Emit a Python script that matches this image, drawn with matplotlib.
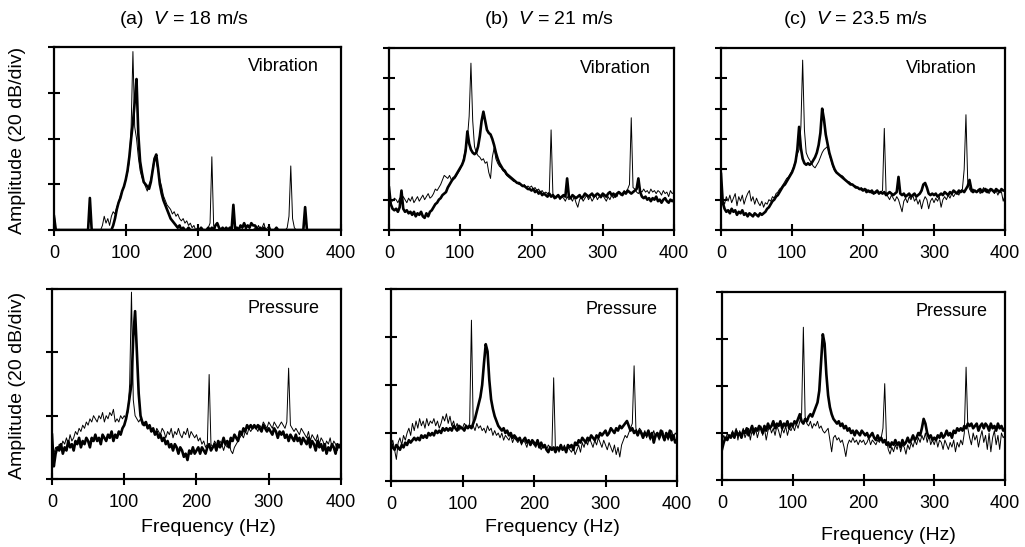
import numpy as np
import matplotlib
matplotlib.use("Agg")
import matplotlib.pyplot as plt

# ---------------- data (dB, relative; sampled every 2.5 Hz from 0 to 400 Hz) ----------------
freq = np.linspace(0, 400, 161)

# (a) V = 18 m/s, vibration
vib18_thick = [
    6, 0, 0, 0, 0, 0, 0, 0, 0, 0, 0, 0, 0, 0, 0, 0, 0, 0, 0, 0,
    14, 0, 0, 0, 0, 0, 0, 0, 0, 0, 0, 0, 0, 2, 5, 9, 12, 14, 17, 19,
    22, 26, 32, 40, 47, 56, 66, 42, 30, 25, 21, 20, 19, 18, 21, 26, 31, 33, 27, 20,
    16, 13, 11, 9, 7, 5, 4, 3, 2, 1, 2, 0, 1, 0, 0, 1, 0, 0, 0, 0,
    0, 0, 1, 0, 0, 0, 1, 0, 1, 0, 2, 3, 1, 0, 1, 0, 1, 0, 1, 0,
    11, 0, 1, 0, 2, 1, 3, 1, 2, 1, 3, 2, 2, 1, 0, 1, 0, 1, 0, 0,
    0, 0, 0, 0, 1, 0, 0, 0, 0, 0, 0, 0, 0, 0, 0, 0, 0, 0, 0, 0,
    10, 0, 0, 0, 0, 0, 0, 0, 0, 0, 0, 0, 0, 0, 0, 0, 0, 0, 0, 0,
    0]
vib18_thin = [
    8, 0, 0, 0, 0, 0, 0, 0, 0, 0, 0, 0, 0, 0, 0, 0, 0, 0, 0, 0,
    0, 0, 0, 0, 0, 0, 0, 2, 6, 3, 5, 2, 6, 8, 7, 10, 12, 15, 17, 19,
    22, 25, 30, 45, 78, 45, 40, 32, 26, 23, 21, 19, 17, 20, 22, 27, 32, 30, 26, 22,
    19, 15, 13, 11, 10, 9, 7, 8, 6, 7, 5, 4, 5, 3, 4, 2, 3, 1, 2, 0,
    1, 0, 0, 0, 0, 0, 1, 3, 32, 2, 0, 0, 0, 0, 0, 0, 0, 0, 0, 0,
    0, 0, 0, 0, 0, 0, 0, 1, 0, 0, 0, 0, 1, 0, 2, 0, 1, 3, 0, 1,
    2, 0, 0, 0, 0, 0, 0, 0, 0, 0, 1, 6, 28, 5, 1, 0, 0, 0, 0, 0,
    0, 0, 0, 0, 0, 0, 0, 0, 0, 0, 0, 0, 0, 0, 0, 0, 0, 0, 0, 0,
    0]

# (b) V = 21 m/s, vibration
vib21_thick = [
    28, 17, 14, 13, 14, 12, 15, 26, 14, 12, 13, 11, 12, 10, 12, 9, 11, 10, 12, 9,
    8, 11, 9, 12, 13, 15, 17, 18, 20, 21, 23, 24, 25, 28, 30, 32, 34, 35, 37, 39,
    41, 43, 46, 52, 65, 57, 53, 51, 50, 51, 55, 62, 72, 78, 72, 66, 64, 63, 60, 56,
    51, 47, 44, 42, 40, 39, 37, 36, 35, 34, 33, 32, 31, 31, 30, 29, 29, 28, 27, 27,
    26, 27, 25, 26, 24, 25, 23, 24, 23, 22, 24, 22, 23, 21, 22, 23, 21, 22, 23, 22,
    34, 22, 21, 23, 22, 21, 22, 23, 21, 22, 24, 23, 22, 23, 24, 22, 23, 24, 23, 22,
    24, 23, 22, 24, 25, 23, 24, 22, 24, 25, 24, 23, 25, 24, 26, 25, 24, 25, 26, 27,
    34, 25, 22, 21, 22, 20, 21, 19, 21, 20, 22, 19, 20, 18, 20, 21, 19, 18, 20, 19,
    20]
vib21_thin = [
    22, 20, 19, 21, 20, 18, 21, 19, 22, 20, 18, 21, 19, 22, 18, 20, 22, 19, 21, 23,
    20, 22, 24, 21, 22, 24, 27, 26, 28, 30, 33, 36, 35, 34, 36, 33, 33, 34, 36, 38,
    40, 43, 48, 54, 60, 75, 110, 72, 55, 51, 49, 48, 46, 47, 44, 45, 38, 34, 48, 54,
    47, 44, 42, 41, 39, 38, 36, 35, 34, 33, 32, 32, 31, 30, 30, 29, 30, 28, 29, 28,
    29, 27, 28, 26, 27, 25, 26, 24, 25, 24, 25, 66, 24, 22, 21, 23, 20, 22, 21, 19,
    22, 20, 21, 19, 22, 18, 15, 20, 22, 19, 21, 23, 20, 22, 19, 21, 23, 20, 22, 21,
    23, 21, 19, 22, 20, 23, 21, 24, 22, 25, 23, 24, 26, 25, 27, 30, 74, 28, 27, 25,
    24, 26, 25, 27, 25, 26, 24, 27, 25, 26, 24, 26, 25, 23, 26, 24, 25, 22, 26, 24,
    25]

# (c) V = 23.5 m/s, vibration
vib235_thick = [
    37, 18, 14, 12, 13, 11, 14, 12, 13, 10, 12, 11, 13, 10, 11, 9, 11, 10, 9, 11,
    10, 9, 11, 10, 11, 12, 14, 15, 17, 19, 20, 22, 23, 25, 27, 29, 30, 32, 34, 36,
    38, 41, 45, 53, 68, 54, 47, 44, 43, 44, 43, 44, 46, 48, 51, 56, 64, 80, 73, 63,
    57, 51, 47, 43, 40, 38, 37, 36, 35, 34, 33, 32, 31, 30, 30, 29, 28, 28, 27, 27,
    26, 27, 25, 26, 25, 26, 24, 25, 26, 24, 25, 24, 25, 23, 24, 25, 24, 23, 24, 25,
    35, 24, 23, 24, 22, 23, 24, 22, 23, 24, 22, 23, 24, 26, 30, 31, 28, 24, 23, 24,
    23, 24, 22, 23, 24, 23, 25, 24, 23, 25, 24, 26, 25, 24, 26, 25, 26, 25, 27, 29,
    33, 27, 25, 26, 25, 26, 27, 25, 26, 27, 25, 26, 27, 26, 25, 27, 26, 25, 27, 26,
    26]
vib235_thin = [
    24, 20, 17, 22, 19, 23, 18, 21, 24, 16, 22, 19, 23, 17, 21, 24, 26, 19, 22, 17,
    21, 18, 16, 19, 15, 18, 17, 20, 19, 22, 21, 24, 25, 27, 28, 30, 32, 34, 35, 37,
    39, 42, 46, 50, 53, 68, 112, 66, 51, 48, 46, 44, 42, 41, 43, 45, 48, 51, 53, 54,
    55, 50, 46, 42, 39, 38, 37, 36, 36, 35, 33, 32, 32, 31, 30, 29, 29, 28, 27, 28,
    27, 26, 27, 25, 26, 24, 25, 24, 25, 24, 25, 26, 67, 25, 22, 20, 23, 21, 19, 22,
    20, 16, 12, 19, 21, 18, 22, 20, 23, 19, 21, 17, 20, 14, 19, 22, 20, 14, 19, 21,
    18, 21, 19, 22, 15, 20, 22, 20, 23, 21, 24, 22, 24, 25, 23, 26, 27, 40, 76, 32,
    27, 25, 27, 26, 25, 27, 24, 26, 28, 25, 27, 24, 26, 27, 24, 26, 23, 26, 25, 19,
    23]

# (a) V = 18 m/s, pressure
pres18_thick = [
    14, 4, 8, 10, 9, 11, 8, 10, 9, 12, 10, 11, 9, 12, 11, 13, 10, 12, 11, 13,
    12, 10, 13, 12, 14, 12, 13, 11, 14, 13, 12, 14, 13, 15, 12, 14, 13, 15, 14, 16,
    17, 19, 22, 26, 30, 45, 53, 40, 27, 20, 18, 17, 18, 16, 17, 15, 16, 14, 15, 13,
    14, 12, 13, 11, 12, 10, 11, 9, 11, 10, 8, 10, 9, 7, 8, 6, 9, 8, 10, 8,
    9, 10, 8, 10, 9, 8, 10, 11, 9, 10, 11, 9, 12, 10, 11, 13, 11, 12, 10, 13,
    12, 14, 13, 12, 15, 14, 16, 15, 17, 16, 17, 16, 17, 16, 17, 16, 15, 17, 16, 15,
    16, 15, 14, 16, 15, 13, 15, 14, 15, 13, 14, 12, 14, 13, 12, 14, 12, 13, 11, 13,
    12, 11, 13, 10, 12, 11, 9, 12, 10, 11, 9, 11, 8, 10, 9, 11, 10, 8, 11, 10,
    11]
pres18_thin = [
    12, 8, 10, 9, 11, 10, 12, 11, 13, 11, 14, 12, 13, 15, 14, 16, 15, 17, 16, 18,
    17, 19, 18, 20, 19, 18, 20, 19, 21, 18, 20, 19, 21, 20, 22, 18, 19, 18, 20, 19,
    20, 19, 21, 30, 59, 25, 20, 19, 18, 19, 17, 18, 17, 16, 17, 15, 16, 14, 16, 15,
    14, 16, 15, 13, 15, 14, 16, 13, 15, 14, 16, 14, 13, 15, 14, 16, 13, 15, 14, 13,
    14, 12, 13, 11, 12, 10, 11, 33, 11, 10, 12, 11, 10, 12, 11, 9, 11, 10, 12, 9,
    8, 10, 11, 12, 13, 14, 13, 15, 14, 16, 15, 16, 17, 16, 15, 17, 16, 18, 17, 16,
    18, 17, 16, 18, 17, 16, 17, 18, 17, 16, 18, 35, 17, 16, 15, 16, 15, 14, 16, 15,
    14, 13, 15, 12, 14, 13, 12, 14, 11, 13, 12, 10, 12, 11, 13, 10, 12, 11, 9, 11,
    10]

# (b) V = 21 m/s, pressure
pres21_thick = [
    16, 14, 13, 15, 14, 13, 15, 14, 16, 15, 17, 16, 17, 18, 17, 18, 17, 19, 18, 19,
    18, 20, 19, 20, 19, 21, 20, 21, 20, 22, 21, 22, 21, 22, 21, 23, 22, 21, 23, 22,
    22, 21, 23, 22, 23, 22, 24, 26, 29, 32, 35, 40, 49, 57, 54, 42, 34, 30, 27, 25,
    23, 22, 21, 22, 20, 21, 19, 20, 18, 19, 18, 17, 18, 16, 17, 18, 16, 17, 15, 17,
    16, 15, 17, 14, 16, 14, 15, 13, 12, 14, 13, 14, 12, 14, 13, 15, 13, 14, 12, 15,
    14, 15, 13, 16, 15, 17, 16, 18, 17, 16, 18, 17, 19, 18, 17, 19, 18, 20, 19, 20,
    21, 19, 20, 22, 21, 20, 22, 21, 23, 22, 23, 24, 25, 23, 21, 22, 20, 21, 19, 21,
    20, 18, 20, 19, 21, 18, 20, 16, 19, 20, 18, 21, 19, 17, 20, 18, 21, 17, 19, 16,
    17]
pres21_thin = [
    15, 17, 13, 9, 16, 18, 15, 19, 17, 20, 22, 19, 24, 21, 25, 22, 26, 23, 25, 22,
    26, 23, 25, 24, 26, 23, 25, 22, 24, 27, 25, 28, 24, 27, 23, 25, 22, 24, 21, 23,
    22, 24, 23, 22, 24, 67, 23, 21, 24, 22, 23, 21, 22, 20, 23, 21, 22, 19, 21, 19,
    20, 18, 20, 17, 19, 18, 17, 19, 16, 18, 17, 16, 18, 15, 17, 16, 14, 17, 15, 16,
    15, 14, 16, 15, 13, 15, 14, 13, 15, 14, 13, 43, 13, 14, 12, 14, 13, 15, 12, 14,
    13, 12, 14, 11, 13, 15, 12, 16, 14, 17, 15, 18, 16, 14, 17, 15, 18, 16, 14, 17,
    15, 13, 16, 14, 12, 15, 11, 14, 10, 15, 17, 19, 18, 20, 22, 24, 48, 22, 20, 22,
    21, 19, 21, 18, 20, 17, 19, 21, 18, 20, 17, 19, 21, 18, 20, 17, 19, 21, 18, 20,
    19]

# (c) V = 23.5 m/s, pressure
pres235_thick = [
    13, 16, 18, 17, 19, 18, 20, 18, 21, 19, 20, 18, 21, 20, 22, 19, 21, 23, 20, 22,
    21, 23, 22, 20, 23, 21, 24, 22, 23, 25, 22, 24, 23, 25, 22, 24, 23, 25, 22, 24,
    23, 25, 24, 26, 28, 25, 24, 26, 25, 27, 28, 27, 29, 31, 33, 38, 50, 62, 58, 45,
    36, 31, 28, 26, 25, 24, 25, 23, 24, 22, 23, 21, 22, 20, 21, 19, 21, 20, 19, 21,
    20, 19, 20, 18, 19, 20, 18, 17, 19, 17, 18, 16, 17, 15, 16, 14, 16, 15, 17, 15,
    16, 14, 17, 15, 16, 18, 16, 17, 19, 17, 18, 20, 19, 22, 26, 24, 20, 18, 19, 17,
    18, 17, 19, 18, 20, 18, 19, 21, 19, 20, 18, 21, 20, 22, 21, 22, 21, 23, 22, 24,
    23, 24, 22, 23, 24, 21, 23, 24, 22, 24, 23, 21, 24, 22, 23, 21, 24, 22, 23, 21,
    22]
pres235_thin = [
    16, 19, 17, 20, 18, 19, 21, 18, 22, 17, 21, 19, 22, 18, 20, 22, 17, 21, 19, 22,
    18, 21, 23, 19, 22, 17, 21, 23, 20, 22, 19, 23, 21, 18, 22, 20, 23, 19, 22, 21,
    23, 21, 24, 22, 25, 28, 65, 27, 24, 23, 25, 22, 24, 23, 25, 22, 23, 21, 20, 21,
    22, 17, 12, 18, 19, 17, 18, 16, 17, 14, 10, 15, 17, 16, 18, 16, 17, 15, 17, 16,
    17, 15, 16, 18, 15, 17, 16, 15, 17, 16, 18, 22, 41, 17, 13, 11, 14, 12, 15, 13,
    16, 12, 15, 14, 11, 15, 13, 16, 14, 17, 15, 18, 16, 19, 17, 20, 16, 19, 15, 17,
    15, 18, 14, 17, 16, 13, 17, 15, 13, 16, 14, 17, 12, 16, 14, 17, 15, 20, 48, 22,
    18, 15, 20, 17, 19, 14, 18, 21, 16, 19, 13, 20, 12, 18, 21, 15, 19, 13, 20, 18,
    19]

titles = ["(a)  $\\mathit{V}$ = 18 m/s", "(b)  $\\mathit{V}$ = 21 m/s", "(c)  $\\mathit{V}$ = 23.5 m/s"]
row_labels = ["Vibration", "Pressure"]
x_ticks = [0, 100, 200, 300, 400]
ylabel = "Amplitude (20 dB/div)"
xlabel = "Frequency (Hz)"

# ---------------- figure ----------------
plt.rcParams['font.family'] = ['Liberation Sans', 'DejaVu Sans']
plt.rcParams['mathtext.fontset'] = 'custom'
plt.rcParams['mathtext.it'] = 'Liberation Sans:italic'
plt.rcParams['mathtext.rm'] = 'Liberation Sans'

W, H = 1025, 547
fig = plt.figure(figsize=(W / 100, H / 100), dpi=100)


def add_ax(x0, y0, x1, y1):
    return fig.add_axes([x0 / W, 1 - y1 / H, (x1 - x0) / W, (y1 - y0) / H])


panels = [
    # box (px), dB range, thick, thin, row
    ((54, 47, 341, 230), 80, vib18_thick, vib18_thin, 0),
    ((389, 48, 674, 230), 120, vib21_thick, vib21_thin, 0),
    ((721, 48, 1005, 230), 120, vib235_thick, vib235_thin, 0),
    ((52, 289, 341, 479), 60, pres18_thick, pres18_thin, 1),
    ((391, 289, 677, 481), 80, pres21_thick, pres21_thin, 1),
    ((722, 292, 1005, 480), 80, pres235_thick, pres235_thin, 1),
]

label_pos = [(0.80, 0.895), (0.795, 0.885), (0.775, 0.885),
             (0.80, 0.895), (0.805, 0.895), (0.81, 0.895)]

axes = []
for i, (box, top, thick, thin, row) in enumerate(panels):
    ax = add_ax(*box)
    axes.append(ax)
    ax.plot(freq, thin, color='black', lw=0.7, zorder=3)
    ax.plot(freq, thick, color='black', lw=1.9, zorder=2)
    ax.set_xlim(0, 400)
    ax.set_ylim(0, top)
    ax.set_xticks(x_ticks)
    ax.set_yticks(np.arange(0, top + 1, 20))
    ax.set_yticklabels([])
    ax.tick_params(direction='inout', length=8, width=1.5, labelsize=13, pad=7)
    for s in ax.spines.values():
        s.set_linewidth(1.6)
    ax.text(label_pos[i][0], label_pos[i][1], row_labels[row], transform=ax.transAxes,
            ha='center', va='center', fontsize=13)

# column titles
for x, t in zip([184, 549, 855], titles):
    fig.text(x / W, 1 - 20 / H, t, ha='center', va='center', fontsize=14)

# x labels
for x, y in zip([208, 552, 888], [528, 528, 535]):
    fig.text(x / W, 1 - y / H, xlabel, ha='center', va='center', fontsize=14)

# y labels
for y in [140, 385]:
    fig.text(18 / W, 1 - y / H, ylabel, ha='center', va='center', rotation=90, fontsize=14)

fig.savefig("out.png", dpi=100)
